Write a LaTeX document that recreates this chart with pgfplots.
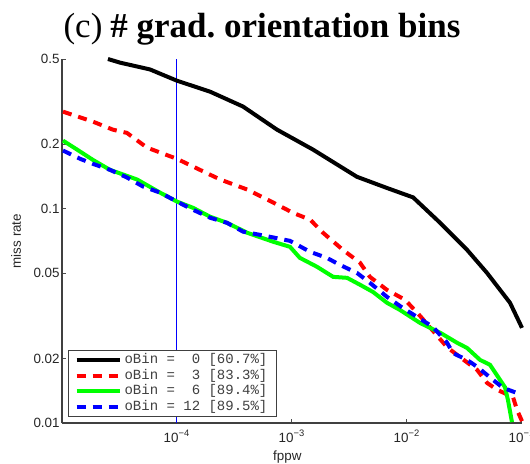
\documentclass[border=0pt]{standalone}
\usepackage{fontspec}
\setmainfont{Liberation Sans}
\newfontfamily\titlefont{Liberation Serif}
\newfontfamily\legfont{Liberation Mono}
\usepackage{pgfplots}
\pgfplotsset{compat=1.18}

\begin{document}
\begin{tikzpicture}
\begin{axis}[
    scale only axis, width=230pt, height=182pt,
    xmode=log, ymode=log,
    xmin=1e-5, xmax=1e-1, ymin=0.01, ymax=0.5,
    clip=false,
    axis lines*=left, axis line style={-, black!75, line width=0.6pt},
    xtick={1e-4,1e-3,1e-2,1e-1},
    xticklabels={10\textsuperscript{−4},10\textsuperscript{−3},10\textsuperscript{−2},10\textsuperscript{−1}},
    ytick={0.01,0.02,0.05,0.1,0.2,0.5},
    yticklabels={0.01,0.02,0.05,0.1,0.2,0.5},
    xminorticks=false, yminorticks=false,
    tick align=inside, major tick length=2pt,
    tick style={black!70, line width=0.5pt},
    tick label style={font=\fontsize{6.7}{8}\selectfont, text=black!85},
    yticklabel style={inner xsep=1pt},
    xlabel={fppw}, ylabel={miss rate},
    every axis x label/.style={at={(axis description cs:0.49,-0.093)}, anchor=center,
        font=\fontsize{6.7}{8}\selectfont, text=black!85},
    every axis y label/.style={at={(axis description cs:-0.1,0.5)}, rotate=90, anchor=center,
        font=\fontsize{6.7}{8}\selectfont, text=black!85},
    legend style={at={(0.013,0.016)}, anchor=south west, font=\legfont\fontsize{7}{8}\selectfont,
        draw=black!75, line width=0.6pt, inner xsep=3pt, inner ysep=1pt, row sep=0.3pt,
        nodes={inner xsep=1.5pt, inner ysep=0.5pt, text height=5pt, text depth=1.5pt, text=black!75}},
    legend cell align=left,
    legend image code/.code={\draw[#1] (0pt,0pt) -- (21.5pt,0pt);},
]
% threshold line at 1e-4 fppw
\addplot[blue, line width=0.5pt, forget plot] coordinates {(1e-4,0.01) (1e-4,0.5)};

\addplot[black, line width=2pt] coordinates {
(2.51e-5,0.5) (3.19e-5,0.481) (5.82e-5,0.447) (1.0e-4,0.396) (1.94e-4,0.352)
(3.75e-4,0.300) (7.41e-4,0.234) (1.52e-3,0.189) (3.67e-3,0.141) (6.70e-3,0.125)
(0.0113,0.113) (0.0194,0.0860) (0.0333,0.0643) (0.0496,0.0502) (0.0787,0.0364) (0.1,0.0278)};
\addlegendentry{oBin =\ \ 0 [60.7\%]\hspace{3.5pt}}

\addplot[red, line width=2pt, dash pattern=on 4.5pt off 3.5pt] coordinates {
(1.02e-5,0.284) (1.86e-5,0.255) (2.77e-5,0.234) (3.67e-5,0.226) (5.48e-5,0.193)
(1.0e-4,0.171) (1.58e-4,0.152) (2.37e-4,0.137) (4.07e-4,0.123) (6.84e-4,0.107)
(1.02e-3,0.0957) (1.44e-3,0.0889) (1.86e-3,0.0773) (2.77e-3,0.0643) (3.90e-3,0.0560)
(4.76e-3,0.0481) (6.70e-3,0.0418) (9.62e-3,0.0376) (0.0130,0.0316) (0.0223,0.0226)
(0.0289,0.0203) (0.0407,0.0177) (0.0496,0.0154) (0.0607,0.0143) (0.0836,0.0132)
(0.0906,0.0115) (0.1,0.0102)};
\addlegendentry{oBin =\ \ 3 [83.3\%]\hspace{3.5pt}}

\addplot[green, line width=2pt] coordinates {
(1.02e-5,0.208) (1.35e-5,0.189) (1.86e-5,0.169) (2.61e-5,0.152) (4.49e-5,0.137)
(7.11e-5,0.119) (1.0e-4,0.108) (1.38e-4,0.101) (1.94e-4,0.0918) (2.72e-4,0.0860)
(4.07e-4,0.0773) (6.84e-4,0.0702) (9.62e-4,0.0664) (1.17e-3,0.0590) (1.65e-3,0.0536)
(2.28e-3,0.0481) (3.01e-3,0.0476) (3.90e-3,0.0442) (5.06e-3,0.0409) (6.70e-3,0.0364)
(8.69e-3,0.0337) (0.0130,0.0293) (0.0194,0.0264) (0.0272,0.0237) (0.0333,0.0224)
(0.0432,0.0197) (0.0527,0.0187) (0.0644,0.0159) (0.0711,0.0147) (0.0755,0.0128)
(0.0818,0.0101)};
\addlegendentry{oBin =\ \ 6 [89.4\%]\hspace{3.5pt}}

\addplot[blue, line width=2pt, dash pattern=on 4.5pt off 3.5pt] coordinates {
(1.02e-5,0.187) (1.44e-5,0.171) (1.86e-5,0.162) (2.61e-5,0.152) (3.67e-5,0.140)
(5.06e-5,0.127) (7.11e-5,0.119) (1.0e-4,0.108) (1.38e-4,0.0989) (1.94e-4,0.0908)
(2.72e-4,0.0860) (3.75e-4,0.0782) (5.82e-4,0.0748) (9.62e-4,0.0708) (1.44e-3,0.0629)
(2.01e-3,0.0590) (2.61e-3,0.0547) (3.67e-3,0.0502) (4.76e-3,0.0451) (6.70e-3,0.0388)
(9.22e-3,0.0344) (0.0122,0.0313) (0.0168,0.0281) (0.0223,0.0237) (0.0251,0.0212)
(0.0333,0.0197) (0.0407,0.0183) (0.0560,0.0159) (0.0684,0.0146) (0.0906,0.0138)
(0.1,0.0138)};
\addlegendentry{oBin = 12 [89.5\%]\hspace{3.5pt}}
\end{axis}
\node[anchor=base, font=\titlefont\fontsize{17.5}{20}\selectfont]
    at ([xshift=100pt,yshift=11pt]current axis.north west)
    {(c)\hspace{4pt}\textbf{\# grad.\ orientation bins}};
\pgfresetboundingbox
\path[use as bounding box] ([xshift=-31pt,yshift=-20.5pt]current axis.south west)
    rectangle ([xshift=4pt,yshift=29.5pt]current axis.north east);
\end{tikzpicture}
\end{document}
